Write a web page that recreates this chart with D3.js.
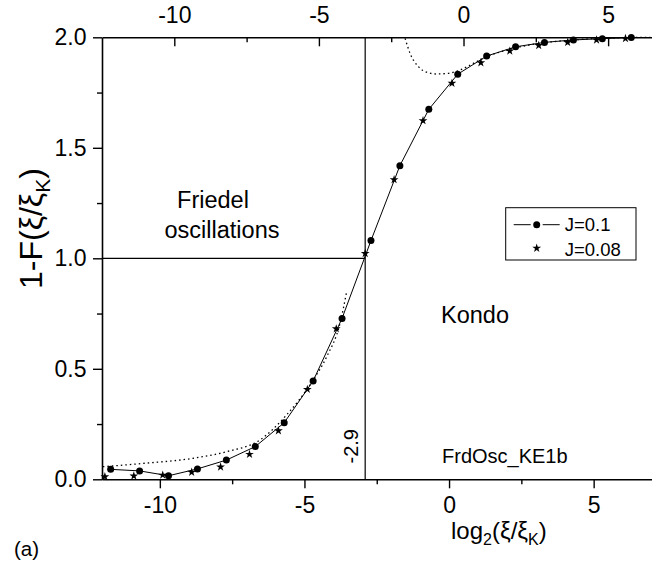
<!DOCTYPE html>
<html>
<head>
<meta charset="utf-8">
<script src="https://cdn.jsdelivr.net/npm/d3@7"></script>
<style>
  body { margin: 0; background: #fff; }
  svg { display: block; font-family: "Liberation Sans", Arial, sans-serif; }
</style>
</head>
<body>
<script>
// J=0.1 (dots, joined by a line)
const xDots = [-11.7, -10.7, -9.7, -8.7, -7.7, -6.7, -5.7, -4.7, -3.7, -2.7, -1.7, -0.7, 0.3, 1.3, 2.3, 3.3, 4.3, 5.3, 6.3];
const yDots = [0.045, 0.038, 0.016, 0.047, 0.087, 0.148, 0.256, 0.445, 0.728, 1.08, 1.419, 1.674, 1.833, 1.915, 1.957, 1.977, 1.988, 1.994, 1.999];

// J=0.08 (stars only)
const xStars = [-11.9, -10.9, -9.9, -8.9, -7.9, -6.9, -5.9, -4.9, -3.9, -2.9, -1.9, -0.9, 0.1, 1.1, 2.1, 3.1, 4.1, 5.1, 6.1];
const yStars = [0.012, 0.015, 0.019, 0.032, 0.056, 0.113, 0.22, 0.407, 0.681, 1.022, 1.356, 1.623, 1.792, 1.885, 1.938, 1.963, 1.977, 1.988, 1.995];

// dotted asymptotes
const xFriedel = [-11.97, -10.58, -8.85, -7.69, -6.54, -5.62, -4.7, -4.23, -3.77, -3.54];
const yFriedel = [0.057, 0.072, 0.095, 0.125, 0.178, 0.291, 0.449, 0.555, 0.706, 0.849];
const xKondo = [-1.52, -1.35, -1.06, -0.77, -0.43, -0.02, 0.38, 0.84, 1.3, 2.11, 3.15, 4.3, 5.57, 6.96];
const yKondo = [1.995, 1.928, 1.867, 1.842, 1.834, 1.837, 1.852, 1.882, 1.912, 1.946, 1.973, 1.988, 1.997, 2.0];

const xMajor = [-10, -5, 0, 5];
const xMinor = [-7.5, -2.5, 2.5];
const yMajor = [0, 0.5, 1, 1.5, 2];
const yMinor = [0.25, 0.75, 1.25, 1.75];
const xMark = -2.9;

const width = 665, height = 561;
const margin = { top: 37.3, right: 13.5, bottom: 81.7, left: 102 };

const svg = d3.select("body").append("svg")
  .attr("width", width)
  .attr("height", height);

const x = d3.scaleLinear().domain([-12, 7]).range([margin.left, width - margin.right]);
const xTop = d3.scaleLinear().domain([-12.5, 6.5]).range([margin.left, width - margin.right]);
const y = d3.scaleLinear().domain([0, 2]).range([height - margin.bottom, margin.top]);

// plain hyphen for negatives, like the original
const fmtInt = d => String(d);
const fmt1 = d => d.toFixed(1);

function styleAxis(g, size) {
  g.select(".domain").attr("stroke-width", 1.6);
  g.selectAll(".tick line").attr("stroke-width", 1.4);
  g.selectAll(".tick text").attr("font-size", size).attr("font-family", "Liberation Sans, Arial, sans-serif").attr("fill", "#000");
}

// bottom axis
svg.append("g")
  .attr("transform", `translate(0,${y(0)})`)
  .call(d3.axisBottom(x).tickValues(xMinor).tickSize(5).tickFormat(""))
  .call(g => g.select(".domain").remove())
  .call(g => g.selectAll("line").attr("stroke-width", 1.4));
svg.append("g")
  .attr("transform", `translate(0,${y(0)})`)
  .call(d3.axisBottom(x).tickValues(xMajor).tickSize(9).tickSizeOuter(0).tickPadding(8.5).tickFormat(fmtInt))
  .call(g => styleAxis(g, 23));

// top axis, ticks pointing inward
svg.append("g")
  .attr("transform", `translate(0,${y(2)})`)
  .call(d3.axisTop(xTop).tickValues(xMinor).tickSize(-5).tickFormat(""))
  .call(g => g.select(".domain").remove())
  .call(g => g.selectAll("line").attr("stroke-width", 1.4));
svg.append("g")
  .attr("transform", `translate(0,${y(2)})`)
  .call(d3.axisTop(xTop).tickValues(xMajor).tickSize(-9).tickSizeOuter(0).tickPadding(14).tickFormat(fmtInt))
  .call(g => styleAxis(g, 23));

// left axis
svg.append("g")
  .attr("transform", `translate(${x(-12)},0)`)
  .call(d3.axisLeft(y).tickValues(yMinor).tickSize(5).tickFormat(""))
  .call(g => g.select(".domain").remove())
  .call(g => g.selectAll("line").attr("stroke-width", 1.4));
svg.append("g")
  .attr("transform", `translate(${x(-12)},0)`)
  .call(d3.axisLeft(y).tickValues(yMajor).tickSize(9).tickSizeOuter(0).tickPadding(6.5).tickFormat(fmt1))
  .call(g => styleAxis(g, 23));

// guide lines at xi = xi_K
svg.append("line")
  .attr("x1", x(xMark)).attr("x2", x(xMark))
  .attr("y1", y(2)).attr("y2", y(0))
  .attr("stroke", "#000").attr("stroke-width", 1.2);
svg.append("line")
  .attr("x1", x(-12)).attr("x2", x(xMark))
  .attr("y1", y(1)).attr("y2", y(1))
  .attr("stroke", "#000").attr("stroke-width", 1.2);

const line = d3.line().x(d => x(d[0])).y(d => y(d[1]));

// dotted asymptotic curves
[[xFriedel, yFriedel], [xKondo, yKondo]].forEach(([xs, ys]) => {
  svg.append("path")
    .attr("d", line.curve(d3.curveMonotoneX)(d3.zip(xs, ys)))
    .attr("fill", "none")
    .attr("stroke", "#000")
    .attr("stroke-width", 1.3)
    .attr("stroke-dasharray", "1.5,3");
});

// J=0.1 line + dots
const dots = d3.zip(xDots, yDots);
svg.append("path")
  .attr("d", line.curve(d3.curveLinear)(dots))
  .attr("fill", "none")
  .attr("stroke", "#000")
  .attr("stroke-width", 1);
svg.append("g").selectAll("circle")
  .data(dots)
  .join("circle")
  .attr("cx", d => x(d[0]))
  .attr("cy", d => y(d[1]))
  .attr("r", 3.5)
  .attr("fill", "#000");

// J=0.08 stars
const star = d3.symbol().type(d3.symbolStar).size(24);
svg.append("g").selectAll("path")
  .data(d3.zip(xStars, yStars))
  .join("path")
  .attr("transform", d => `translate(${x(d[0])},${y(d[1])})`)
  .attr("d", star)
  .attr("fill", "#000");

// legend
const lg = svg.append("g").attr("transform", "translate(505.7,207.7)");
lg.append("rect")
  .attr("width", 130.3).attr("height", 52.3)
  .attr("fill", "#fff").attr("stroke", "#000").attr("stroke-width", 1);
lg.append("line").attr("x1", 8).attr("x2", 25).attr("y1", 17).attr("y2", 17).attr("stroke", "#000");
lg.append("line").attr("x1", 37).attr("x2", 54).attr("y1", 17).attr("y2", 17).attr("stroke", "#000");
lg.append("circle").attr("cx", 31).attr("cy", 17).attr("r", 3.5).attr("fill", "#000");
lg.append("path").attr("transform", "translate(31,40.5)").attr("d", star).attr("fill", "#000");
lg.append("text").attr("x", 59).attr("y", 23.5).attr("font-size", 18.5).text("J=0.1");
lg.append("text").attr("x", 59).attr("y", 48).attr("font-size", 18.5).text("J=0.08");

// annotations
svg.append("text").attr("x", 213).attr("y", 208).attr("text-anchor", "middle").attr("font-size", 23.5).text("Friedel");
svg.append("text").attr("x", 222).attr("y", 238).attr("text-anchor", "middle").attr("font-size", 23.5).text("oscillations");
svg.append("text").attr("x", 441).attr("y", 323).attr("font-size", 23.5).text("Kondo");
svg.append("text").attr("x", 442).attr("y", 463).attr("font-size", 20).text("FrdOsc_KE1b");
svg.append("text")
  .attr("transform", `translate(${x(xMark) - 7.5},463.5) rotate(-90)`)
  .attr("font-size", 20)
  .text(fmt1(xMark));
svg.append("text").attr("x", 14).attr("y", 556).attr("font-size", 20.5).text("(a)");

// axis titles
const xt = svg.append("text").attr("x", 451).attr("y", 539).attr("font-size", 24);
xt.append("tspan").text("log");
xt.append("tspan").attr("font-size", 16).attr("dy", 6).text("2");
xt.append("tspan").attr("dy", -6).text("(ξ/ξ");
xt.append("tspan").attr("font-size", 16).attr("dy", 6).text("K");
xt.append("tspan").attr("dy", -6).text(")");

const yt = svg.append("text")
  .attr("transform", "translate(42,289) rotate(-90)")
  .attr("font-size", 32);
yt.append("tspan").text("1-F(ξ/ξ");
yt.append("tspan").attr("font-size", 21).attr("dy", 8).text("K");
yt.append("tspan").attr("dy", -8).text(")");
</script>
</body>
</html>
